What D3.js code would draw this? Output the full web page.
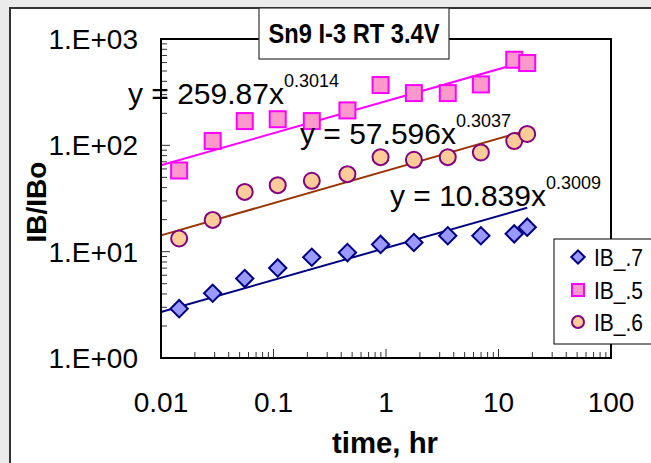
<!DOCTYPE html>
<html><head><meta charset="utf-8">
<script src="https://cdn.jsdelivr.net/npm/d3@7"></script>
<style>body{margin:0;background:#ebebeb;} svg{display:block;}</style>
</head><body>
<svg id="c" width="651" height="463"></svg>
<script>
// ---- data ----
const times = [0.0145, 0.0288, 0.0555, 0.109, 0.219, 0.454, 0.895, 1.77, 3.54, 6.97, 13.8, 18.0];
const ib7 = [2.91, 4.06, 5.58, 7.03, 8.87, 9.8, 11.7, 12.2, 14.1, 14.1, 14.7, 17.0];
const ib5 = [58.0, 110, 169, 176, 169, 213, 369, 310, 310, 374, 638, 594];
const ib6 = [13.3, 19.9, 36.5, 42.2, 46.4, 53.6, 77.4, 73.1, 77.4, 85.7, 109.6, 128];
const seriesNames = ["IB_.7", "IB_.5", "IB_.6"];
const fitA = [10.839, 259.87, 57.596];
const fitB = [0.3009, 0.3014, 0.3037];
const fitRange = [0.01, 18.0];
const xTickLabels = ["0.01", "0.1", "1", "10", "100"];
const yTickLabels = ["1.E+00", "1.E+01", "1.E+02", "1.E+03"];
const title = "Sn9 I-3 RT 3.4V";

const svg = d3.select("#c");
const F = "'Liberation Sans', Arial, sans-serif";
const L = 161, R = 611, T = 39, B = 358;

// background frame
svg.append("rect").attr("x",0).attr("y",0).attr("width",651).attr("height",463).attr("fill","#ebebeb");
svg.append("rect").attr("x",10).attr("y",8).attr("width",660).attr("height",480)
  .attr("fill","#fff").attr("stroke","#333").attr("stroke-width",2);

const x = d3.scaleLog().domain([0.01, 100]).range([L, R]);
const y = d3.scaleLog().domain([1, 1000]).range([B, T]);

// minor/major ticks
const xt = []; for (let e=-2;e<2;e++) for (let m=1;m<10;m++) xt.push(m*Math.pow(10,e)); xt.push(100);
const yt = []; for (let e=0;e<3;e++) for (let m=1;m<10;m++) yt.push(m*Math.pow(10,e)); yt.push(1000);
const isMajor = v => Math.abs(Math.log10(v) - Math.round(Math.log10(v))) < 1e-9;

const g = svg.append("g");
g.selectAll(".xt").data(xt).join("line")
  .attr("x1",d=>x(d)).attr("x2",d=>x(d)).attr("y1",B).attr("y2",d=>B-(isMajor(d)?9:6))
  .attr("stroke","#333").attr("stroke-width",1);
g.selectAll(".yt").data(yt).join("line")
  .attr("y1",d=>y(d)).attr("y2",d=>y(d)).attr("x1",L).attr("x2",d=>L+(isMajor(d)?9:6))
  .attr("stroke","#333").attr("stroke-width",1);

// tick labels
g.selectAll(".xl").data(xTickLabels).join("text")
  .attr("x",d=>x(+d)).attr("y",412).attr("text-anchor","middle")
  .attr("font-family",F).attr("font-size",28).text(d=>d);
g.selectAll(".yl").data(yTickLabels).join("text")
  .attr("x",138).attr("y",d=>y(+d.replace("1.E","1E"))+10).attr("text-anchor","end")
  .attr("font-family",F).attr("font-size",28).text(d=>d);

// axis titles
svg.append("text").attr("x",385).attr("y",453).attr("text-anchor","middle")
  .attr("font-family",F).attr("font-weight","bold").attr("font-size",29)
  .attr("textLength",106).attr("lengthAdjust","spacingAndGlyphs").text("time, hr");
svg.append("text").attr("transform","translate(46,202) rotate(-90)").attr("text-anchor","middle")
  .attr("font-family",F).attr("font-weight","bold").attr("font-size",28).text("IB/IBo");

// trend lines
const lineColors = ["#000080", "#ff00ff", "#993300"];
const line = d3.line().x(d=>x(d[0])).y(d=>y(d[1]));
fitA.forEach((a,i)=>{
  const pts = fitRange.map(t=>[t, a*Math.pow(t, fitB[i])]);
  svg.append("path").attr("d", line(pts)).attr("fill","none")
    .attr("stroke", lineColors[i]).attr("stroke-width",2);
});

// markers
const sym7 = d3.symbol().type(d3.symbolSquare).size(150);
svg.selectAll(".d7").data(times.map((t,i)=>[t,ib7[i]])).join("path")
  .attr("d", sym7).attr("transform",d=>`translate(${x(d[0])},${y(d[1])}) rotate(45)`)
  .attr("fill","#9999ff").attr("stroke","#000080").attr("stroke-width",2);
svg.selectAll(".d5").data(times.map((t,i)=>[t,ib5[i]])).join("rect")
  .attr("x",d=>x(d[0])-8).attr("y",d=>y(d[1])-8).attr("width",16).attr("height",16)
  .attr("fill","#ff99cc").attr("stroke","#ff00ff").attr("stroke-width",2);
svg.selectAll(".d6").data(times.map((t,i)=>[t,ib6[i]])).join("circle")
  .attr("cx",d=>x(d[0])).attr("cy",d=>y(d[1])).attr("r",8)
  .attr("fill","#ffcc99").attr("stroke","#800080").attr("stroke-width",2);

// equations
const eqPos = [[390,206],[128,104],[300,144]];
fitA.forEach((a,i)=>{
  const t = svg.append("text").attr("x",eqPos[i][0]).attr("y",eqPos[i][1])
    .attr("font-family",F).attr("font-size",30);
  t.append("tspan").text(`y = ${a}x`);
  t.append("tspan").attr("dy",-17).attr("font-size",18).text(fitB[i].toFixed(4));
});

// plot frame
svg.append("rect").attr("x",L).attr("y",T).attr("width",R-L).attr("height",B-T)
  .attr("fill","none").attr("stroke","#000").attr("stroke-width",2);

// title box
svg.append("rect").attr("x",259).attr("y",8).attr("width",190).attr("height",51)
  .attr("fill","#fff").attr("stroke","#333").attr("stroke-width",1.2);
svg.append("text").attr("x",354).attr("y",43).attr("text-anchor","middle")
  .attr("font-family",F).attr("font-weight","bold").attr("font-size",28)
  .attr("textLength",171).attr("lengthAdjust","spacingAndGlyphs").text(title);

// legend
svg.append("rect").attr("x",554).attr("y",239).attr("width",120).attr("height",105)
  .attr("fill","#fff").attr("stroke","#000").attr("stroke-width",1);
const ly = [257, 290, 322];
const lg = svg.append("g");
lg.append("path").attr("d", d3.symbol().type(d3.symbolSquare).size(90))
  .attr("transform",`translate(578,${ly[0]}) rotate(45)`)
  .attr("fill","#9999ff").attr("stroke","#000080").attr("stroke-width",2);
lg.append("rect").attr("x",572).attr("y",ly[1]-6).attr("width",12).attr("height",12)
  .attr("fill","#ff99cc").attr("stroke","#ff00ff").attr("stroke-width",2);
lg.append("circle").attr("cx",578).attr("cy",ly[2]).attr("r",6)
  .attr("fill","#ffcc99").attr("stroke","#800080").attr("stroke-width",2);
lg.selectAll("text").data(seriesNames).join("text")
  .attr("x",594).attr("y",(d,i)=>ly[i]+9).attr("font-family",F).attr("font-size",24)
  .attr("textLength",49).attr("lengthAdjust","spacingAndGlyphs").text(d=>d);
</script>
</body></html>
